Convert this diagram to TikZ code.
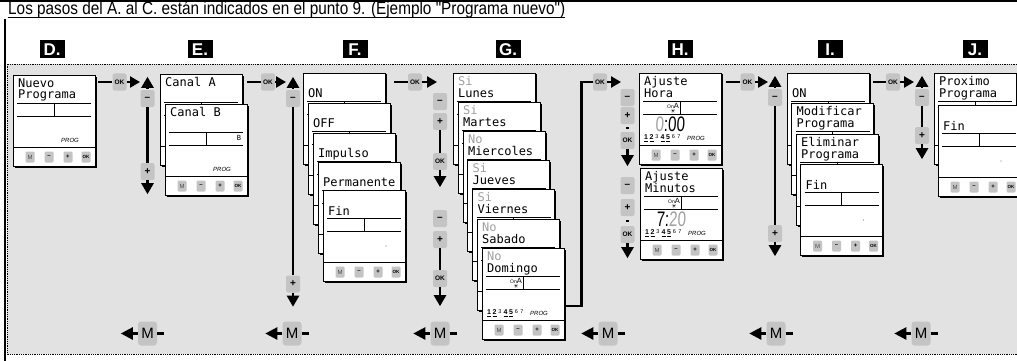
\documentclass[tikz,border=0pt]{standalone}
\usepackage{fontspec}
\usepackage{graphicx}
\setmainfont{Liberation Sans}
\newfontfamily\narrowsans[FakeStretch=0.86]{Liberation Sans}
\newfontfamily\digfont[FakeStretch=0.72,FakeSlant=0.05]{Liberation Sans}
\newfontfamily\lcd{DejaVu Sans Mono}
\newfontfamily\symb{DejaVu Sans}
\usetikzlibrary{arrows.meta,calc}
\definecolor{bg}{HTML}{E2E2E2}
\definecolor{btn}{HTML}{C4C4C4}
\definecolor{lcdgray}{HTML}{A0A0A0}

% a card that lies behind others: only its frame and lines show
\newcommand\backcard[4]{%
  \node[card] (#1) at (#2,#3) {};
  \begin{scope}[shift={(#2,#3)}]
    \draw[inl] (4,28) -- (78,28) (4,41) -- (78,41) (41,28) -- (41,41);
    \draw[inl] (0,72) -- (82,72);
    #4
  \end{scope}}
% a front card, with its button row
\newcommand\lcdcard[4]{%
  \node[card] (#1) at (#2,#3) {};
  \begin{scope}[shift={(#2,#3)}]
    \draw[inl] (4,28) -- (78,28) (4,41) -- (78,41) (41,28) -- (41,41);
    \draw[inl] (0,72) -- (82,72);
    \node[cb,text=black!70] at (17,82) {M};
    \node[cb,font=\bfseries\fontsize{6}{6}\selectfont] at (36,82) {–};
    \node[cb,font=\bfseries\fontsize{6}{6}\selectfont] at (55,82) {+};
    \node[cb,cbok] at (73,82) {OK};
    #4
  \end{scope}}
\newcommand\tlone[1]{\node[lt] at (5,12) {#1};}
\newcommand\tltwo[1]{\node[lt] at (5,24) {#1};}
\newcommand\tlfin[1]{\node[lt] at (5,25) {#1};}
\newcommand\tlgray[1]{\node[lt,text=lcdgray] at (5,12) {#1};}
\newcommand\progtxt{\node[font=\itshape\fontsize{6}{6}\selectfont,inner sep=0pt,anchor=base] at (57,67) {PROG};}
\newcommand\lcddot{\fill[black!50] (63,56) circle (0.6);}
\newcommand\onsun{%
  \node[font=\fontsize{7.5}{7.5}\selectfont,inner sep=0pt,anchor=base east] at (40,35) {{\fontsize{5}{5}\selectfont On}A};
  \node[font=\symb\fontsize{6}{6}\selectfont,inner sep=0pt] at (34,38.5) {☀};}
\newcommand\weekrow{%
  \foreach \dd/\xx/\act in {1/7/1,2/12.5/1,3/18/0,4/23.5/1,5/29/1,6/34.5/0,7/40/0}{%
    \ifnum\act=1
      \node[font=\bfseries\fontsize{7}{7}\selectfont,inner sep=0pt,anchor=base] at (\xx,66.5) {\dd};
      \draw[line width=0.7pt] (\xx-2,68.5) -- (\xx+2,68.5);
    \else
      \node[font=\fontsize{5.5}{5.5}\selectfont,inner sep=0pt,anchor=base] at (\xx,65.5) {\dd};
    \fi}}
\newcommand\bigdig[1]{\node[font=\digfont\fontsize{21}{21}\selectfont,inner sep=0pt,anchor=base] at (31,58) {#1};}

\begin{document}
\begin{tikzpicture}[x=1pt,y=-1pt,
  card/.style={draw=black,fill=white,line width=0.9pt,minimum width=82pt,minimum height=91pt,
    inner sep=0pt,outer sep=0pt,anchor=north west,
    preaction={fill=black,transform canvas={shift={(1.5pt,-1.5pt)}}}},
  inl/.style={line width=0.8pt},
  lt/.style={font=\lcd\fontsize{12}{12}\selectfont,inner sep=0pt,anchor=base west},
  cb/.style={fill=btn,rounded corners=1.2pt,minimum width=9pt,minimum height=11pt,inner sep=0pt,
    font=\fontsize{6}{6}\selectfont},
  cbok/.style={font=\bfseries\fontsize{4.5}{4.5}\selectfont},
  abtn/.style={fill=btn,rounded corners=2pt,minimum width=14pt,minimum height=17pt,inner sep=0pt,
    font=\bfseries\fontsize{10}{10}\selectfont},
  okf/.style={font=\bfseries\fontsize{6.5}{6.5}\selectfont},
  mbtn/.style={fill=btn,rounded corners=3pt,minimum width=19pt,minimum height=24pt,inner sep=0pt,
    font=\fontsize{15}{15}\selectfont},
  lbl/.style={fill=black,text=white,font=\bfseries\fontsize{17}{17}\selectfont,
    minimum width=25pt,minimum height=18pt,inner sep=0pt},
  vline/.style={line width=2.4pt},
  rtip/.style={-{Triangle[length=10pt,width=11pt]}},
  vtip/.style={-{Triangle[length=11pt,width=12pt]}}
]
\useasboundingbox (0,0) rectangle (1017,361);
% frame and background
\fill[bg] (7,64) rectangle (1017,354);
\draw[densely dotted,line width=0.8pt] (1017,64) -- (7,64) -- (7,354) -- (1017,354);
\draw[line width=1.6pt] (0,0.8) -- (1017,0.8);
\draw[line width=2pt] (5,19) -- (5,361);
\node[anchor=base west,inner sep=0pt] (title) at (8,15)
  {\resizebox{557pt}{!}{\narrowsans Los pasos del A. al C. están indicados en el punto 9. (Ejemplo "Programa nuevo")}};
\draw[line width=1pt] ([yshift=-3pt]title.base west) -- ([yshift=-3pt]title.base east);

% step labels
\node[lbl] (labD) at (52,49.5) {D.};
\node[lbl] (labE) at (200,49.5) {E.};
\node[lbl] (labF) at (355,49.5) {F.};
\node[lbl] (labG) at (508,49.5) {G.};
\node[lbl] (labH) at (680,49.5) {H.};
\node[lbl] (labI) at (830,49.5) {I.};
\node[lbl] (labJ) at (975,49.5) {J.};

% D
\lcdcard{dNuevo}{13}{75}{\tlone{Nuevo}\tltwo{Programa}\progtxt}
% E
\backcard{eA}{160}{74}{\tlone{Canal A}}
\lcdcard{eB}{165}{104}{\tlone{Canal B}\node[font=\lcd\fontsize{7}{7}\selectfont,inner sep=0pt] at (74,33.5) {B};\progtxt}
% F
\backcard{fOn}{303}{73}{\tltwo{ON}}
\backcard{fOff}{308}{103}{\tltwo{OFF}}
\backcard{fImp}{313}{133}{\tltwo{Impulso}}
\backcard{fPerm}{318}{162}{\tltwo{Permanente}}
\lcdcard{fFin}{323}{190}{\tlfin{Fin}\lcddot}
% G
\backcard{gLun}{453}{73}{\tlgray{Si}\tltwo{Lunes}}
\backcard{gMar}{458}{102}{\tlgray{Si}\tltwo{Martes}}
\backcard{gMie}{463}{131}{\tlgray{No}\tltwo{Miercoles}}
\backcard{gJue}{467.5}{160.5}{\tlgray{Si}\tltwo{Jueves}}
\backcard{gVie}{472.5}{189.5}{\tlgray{Si}\tltwo{Viernes}}
\backcard{gSab}{477}{219}{\tlgray{No}\tltwo{Sabado}}
\lcdcard{gDom}{482}{248}{\tlgray{No}\tltwo{Domingo}\onsun\weekrow\progtxt}
% H
\lcdcard{hHora}{639}{73}{\tlone{Ajuste}\tltwo{Hora}\onsun\bigdig{{\color{lcdgray}0}:00}\weekrow\progtxt}
\lcdcard{hMin}{640}{168}{\tlone{Ajuste}\tltwo{Minutos}\onsun\bigdig{7:{\color{lcdgray}20}}\weekrow\progtxt}
% I
\backcard{iOn}{787}{73}{\tltwo{ON}}
\backcard{iMod}{791.5}{103.5}{\tlone{Modificar}\tltwo{Programa}}
\backcard{iDel}{796}{134}{\tlone{Eliminar}\tltwo{Programa}}
\lcdcard{iFin}{800.5}{164}{\tlfin{Fin}\lcddot}
% J
\backcard{jProx}{934}{73}{\tlone{Proximo}\tltwo{Programa}}
\lcdcard{jFin}{938}{105}{\tlfin{Fin}\lcddot}

% ---- OK arrows along the top
\coordinate (deS) at (98,82);   \coordinate (deT) at (140,82);
\coordinate (efS) at (247,82);  \coordinate (efT) at (286,82);
\coordinate (fgS) at (394,82);  \coordinate (fgT) at (437,82);
\coordinate (ghS) at (565,306); \coordinate (ghC) at (581.5,306); \coordinate (ghT) at (621,82);
\coordinate (hiS) at (726,82);  \coordinate (hiT) at (768,82);
\coordinate (ijS) at (873,82);  \coordinate (ijT) at (914,82);

\node[abtn,okf] (okDE) at (119.5,82) {OK};
\node[abtn,okf] (okEF) at (268,82) {OK};
\node[abtn,okf] (okFG) at (415,82) {OK};
\node[abtn,okf] (okGH) at (600,82) {OK};
\node[abtn,okf] (okHI) at (747.5,82) {OK};
\node[abtn,okf] (okIJ) at (893,82) {OK};

\draw[vline] (deS) -- (okDE.west);  \draw[vline,rtip] (okDE.east) -- (deT);
\draw[vline] (efS) -- (okEF.west);  \draw[vline,rtip] (okEF.east) -- (efT);
\draw[vline] (fgS) -- (okFG.west);  \draw[vline,rtip] (okFG.east) -- (fgT);
\draw[vline] (ghS) -- (ghC) |- (okGH.west); \draw[vline,rtip] (okGH.east) -- (ghT);
\draw[vline] (hiS) -- (okHI.west);  \draw[vline,rtip] (okHI.east) -- (hiT);
\draw[vline] (ijS) -- (okIJ.west);  \draw[vline,rtip] (okIJ.east) -- (ijT);

% ---- up / down columns
\newcommand\updown[5]{%
  \node[abtn] (#1m) at (#2,#3) {–};
  \node[abtn] (#1p) at (#2,#4) {+};
  \draw[vline] (#1m) -- (#1p);
  \draw[vline,vtip] ([yshift=1pt]#1m.north) -- ++(0,-12);
  \draw[vline,vtip] (#1p.south) -- ++(0,#5);}
\updown{cDE}{147.5}{98.5}{171.5}{14}
\updown{cEF}{293}{98.5}{284}{14}
\updown{cHI}{775}{97.5}{233.5}{14}
\updown{cIJ}{922}{97.5}{135.5}{15}

% G columns
\node[abtn] (g1m) at (440,101.5) {–};
\node[abtn] (g1p) at (440,121.5) {+};
\node[abtn,okf] (g1ok) at (440,161.5) {OK};
\draw[vline] (g1p) -- (g1ok);
\draw[vline,vtip] (g1ok.south) -- ++(0,17);
\node[abtn] (g2m) at (440,218.5) {–};
\node[abtn] (g2p) at (440,239.5) {+};
\node[abtn,okf] (g2ok) at (440,278.5) {OK};
\draw[vline] (g2p) -- (g2ok);
\draw[vline,vtip] (g2ok.south) -- ++(0,19);
% H columns
\node[abtn] (h1m) at (627.5,97.5) {–};
\node[abtn] (h1p) at (627.5,115.5) {+};
\node[abtn,okf] (h1ok) at (627.5,140.5) {OK};
\fill ($(h1p.south)!0.5!(h1ok.north)$) ++(-1.3,-1.3) rectangle ++(2.6,2.6);
\draw[vline,vtip] (h1ok.south) -- ++(0,17);
\node[abtn] (h2m) at (627.5,185.5) {–};
\node[abtn] (h2p) at (627.5,207.5) {+};
\node[abtn,okf] (h2ok) at (627.5,234.5) {OK};
\fill ($(h2p.south)!0.5!(h2ok.north)$) ++(-1.3,-1.3) rectangle ++(2.6,2.6);
\draw[vline,vtip] (h2ok.south) -- ++(0,15);

% ---- back (M) arrows along the bottom
\foreach \nm/\xx in {m1/147.5,m2/292,m3/440,m4/608,m5/776,m6/921}{%
  \node[mbtn] (\nm) at (\xx,333.5) {M};
  \draw[vline,-{Triangle[length=12pt,width=12pt]}] (\nm.west) -- ++(-17,0);
  \draw[vline] (\nm.east) -- ++(7,0);}
\end{tikzpicture}
\end{document}
